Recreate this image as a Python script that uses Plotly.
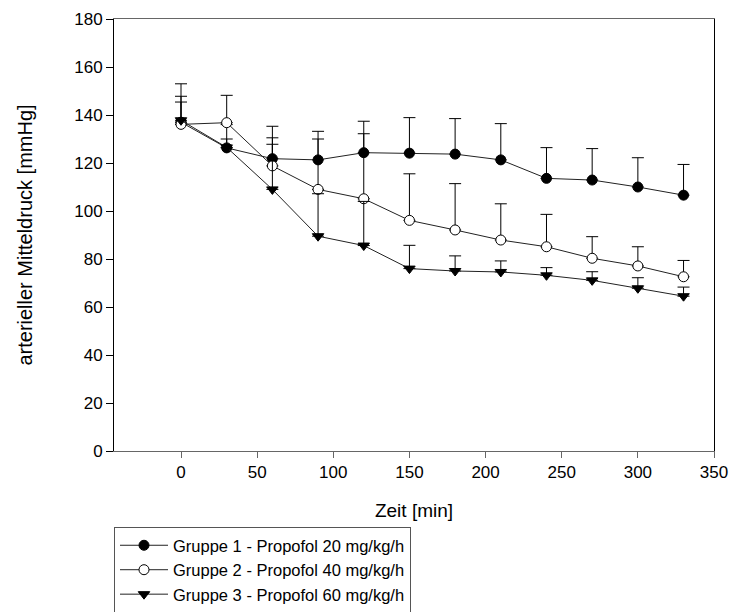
import plotly.graph_objects as go

zeit = [0, 30, 60, 90, 120, 150, 180, 210, 240, 270, 300, 330]

g1_mean = [137.0, 126.3, 121.8, 121.3, 124.3, 124.1, 123.7, 121.3, 113.6, 112.9, 110.0, 106.6]
g1_sd = [8.4, 9.7, 13.5, 11.9, 13.1, 14.8, 14.8, 15.1, 12.8, 13.1, 12.2, 12.8]

g2_mean = [136.1, 136.8, 118.8, 109.0, 105.1, 96.1, 92.1, 87.9, 85.1, 80.3, 77.1, 72.6]
g2_sd = [11.7, 11.4, 11.7, 21.0, 27.1, 19.4, 19.3, 15.1, 13.5, 9.0, 8.0, 6.8]

g3_mean = [137.8, 126.5, 109.0, 89.5, 85.6, 76.0, 75.0, 74.6, 73.2, 71.1, 67.8, 64.5]
g3_sd = [15.2, 3.5, 18.8, 17.7, 18.4, 9.7, 6.3, 4.6, 3.2, 3.6, 4.4, 3.8]

names = ["Gruppe 1 - Propofol 20 mg/kg/h",
         "Gruppe 2 - Propofol 40 mg/kg/h",
         "Gruppe 3 - Propofol 60 mg/kg/h"]

x_ticks = [0, 50, 100, 150, 200, 250, 300, 350]
y_ticks = [0, 20, 40, 60, 80, 100, 120, 140, 160, 180]

FONT = "Liberation Sans, Arial, sans-serif"

fig = go.Figure()

styles = [
    dict(symbol="circle", color="black", line=dict(color="black", width=1)),
    dict(symbol="circle", color="white", line=dict(color="black", width=1)),
    dict(symbol="triangle-down", color="black", line=dict(color="black", width=1)),
]

for mean, sd, name, st in zip([g1_mean, g2_mean, g3_mean], [g1_sd, g2_sd, g3_sd], names, styles):
    fig.add_trace(go.Scatter(
        x=zeit, y=mean, name=name, mode="lines+markers",
        line=dict(color="#222222", width=1),
        marker=dict(size=10, **st),
        error_y=dict(type="data", symmetric=False, array=sd,
                     arrayminus=[0] * len(sd), color="black",
                     thickness=1, width=6),
    ))

fig.update_layout(
    width=731, height=612,
    margin=dict(l=114, r=17, t=19, b=161, autoexpand=False),
    paper_bgcolor="white", plot_bgcolor="white",
    font=dict(family=FONT, size=17, color="black"),
    showlegend=True,
    legend=dict(x=0, y=-0.176, xanchor="left", yanchor="top",
                bordercolor="#555555", borderwidth=1,
                font=dict(family=FONT, size=16.5, color="black"),
                bgcolor="white", tracegroupgap=0, itemwidth=48),
)

fig.update_xaxes(
    range=[-44, 350], tickvals=x_ticks, ticktext=[str(v) for v in x_ticks],
    showgrid=False, zeroline=False, showline=True, linecolor="#666666",
    linewidth=1, mirror=True, ticks="outside", ticklen=6, tickcolor="#666666",
    tickfont=dict(family=FONT, size=17), automargin=False,
    title=dict(text="Zeit [min]", font=dict(family=FONT, size=19), standoff=22),
)
fig.update_yaxes(
    range=[0, 180], tickvals=y_ticks, ticktext=[str(v) for v in y_ticks],
    showgrid=False, zeroline=False, showline=True, linecolor="black",
    linewidth=1, mirror=True, ticks="outside", ticklen=7, tickcolor="black",
    tickfont=dict(family=FONT, size=17), automargin=False,
    title=dict(text="arterieller Mitteldruck [mmHg]", font=dict(family=FONT, size=20), standoff=36),
)

fig.write_html("out.html",
               config={"displayModeBar": False},
               post_script="document.body.style.margin='0';document.body.style.overflow='hidden';")
